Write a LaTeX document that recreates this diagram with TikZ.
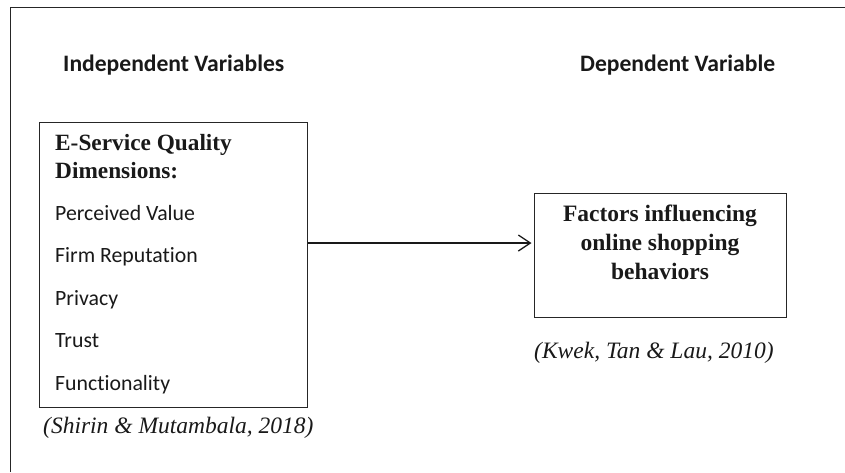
\documentclass[tikz,border=0pt]{standalone}
\usepackage{fontspec}
\setmainfont{Liberation Serif}
\newfontfamily\calibri[Ligatures={NoCommon}]{Carlito}
\usetikzlibrary{arrows.meta}
\tikzset{
  frameline/.style={line width=1.5pt, black!85},
  boxline/.style={draw=black!85, line width=1pt},
  header/.style={inner sep=0pt, anchor=base west, font=\calibri\bfseries\fontsize{23.6}{28}\selectfont, text=black!90},
  item/.style={inner sep=0pt, anchor=base west, font=\calibri\fontsize{21.8}{26}\selectfont, text=black!90},
  titletext/.style={inner sep=0pt, anchor=base west, font=\bfseries\fontsize{23.3}{28}\selectfont, text=black!90},
  cite/.style={inner sep=0pt, anchor=base west, font=\itshape\fontsize{23.5}{28}\selectfont, text=black!90},
  conn/.style={line width=1.3pt, black!90, -{Straight Barb[length=12pt,width=16pt,line width=1.3pt]}}
}
\begin{document}
\begin{tikzpicture}[x=1pt,y=-1pt]
\useasboundingbox (0,0) rectangle (845,472);
% outer frame (top and left only)
\draw[frameline] (10.5,472) -- (10.5,7.5) -- (845,7.5);
% headers
\node[header] (indep) at (63,71) {Independent Variables};
\node[header] (dep) at (580,71.5) {Dependent Variable};
% left box
\node[boxline, minimum width=268pt, minimum height=285pt, inner sep=0pt] (ivbox) at (173,264.5) {};
\node[titletext] (t1) at (55,150.5) {E-Service Quality};
\node[titletext] (t2) at (55,178) {Dimensions:};
\node[item] (i1) at (55,220) {Perceived Value};
\node[item] (i2) at (55,262.5) {Firm Reputation};
\node[item] (i3) at (55,305) {Privacy};
\node[item] (i4) at (55,347.5) {Trust};
\node[item] (i5) at (55,390) {Functionality};
\node[cite] (c1) at (43,433) {(Shirin \& Mutambala, 2018)};
% right box
\node[boxline, minimum width=252pt, minimum height=124pt, inner sep=0pt] (dvbox) at (660,255) {};
\node[inner sep=0pt, anchor=base, align=center, font=\bfseries\fontsize{23.5}{29}\selectfont, text=black!90] (dvtext) at (660,279) {Factors influencing\\online shopping\\behaviors};
\node[cite] (c2) at (534,358) {(Kwek, Tan \& Lau, 2010)};
% arrow
\coordinate (arry) at (0,243);
\draw[conn] (ivbox.east |- arry) -- ([xshift=-2pt]dvbox.west |- arry);
\end{tikzpicture}
\end{document}
